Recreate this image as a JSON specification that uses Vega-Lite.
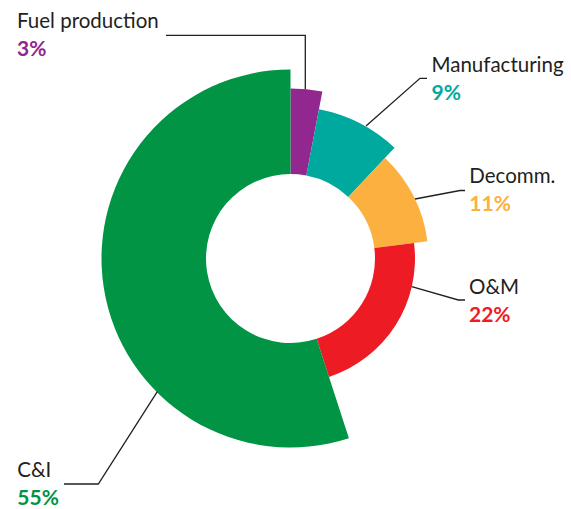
{
  "$schema": "https://vega.github.io/schema/vega-lite/v6.json",
  "width": 571,
  "height": 509,
  "padding": 0,
  "autosize": {"type": "fit", "contains": "padding"},
  "background": "white",
  "config": {"view": {"stroke": null}},
  "datasets": {
    "shares": [
      {"category": "Fuel production", "share": 0.03, "order": 1},
      {"category": "Manufacturing", "share": 0.09, "order": 2},
      {"category": "Decomm.", "share": 0.11, "order": 3},
      {"category": "O&M", "share": 0.22, "order": 4},
      {"category": "C&I", "share": 0.55, "order": 5}
    ],
    "labels": [
      {"category": "Fuel production", "lx": -273.5, "ly": -230.5},
      {"category": "Manufacturing", "lx": 141, "ly": -186.8},
      {"category": "Decomm.", "lx": 178.8, "ly": -75.8},
      {"category": "O&M", "lx": 178.5, "ly": 35.8},
      {"category": "C&I", "lx": -273.2, "ly": 218.2}
    ],
    "leaders": [
      {"category": "Fuel production", "seq": 1, "x": -124.5, "y": -223.2},
      {"category": "Fuel production", "seq": 2, "x": 14.8, "y": -223.2},
      {"category": "Fuel production", "seq": 3, "x": 14.8, "y": -169.2},
      {"category": "Manufacturing", "seq": 1, "x": 75.5, "y": -132.5},
      {"category": "Manufacturing", "seq": 2, "x": 129.5, "y": -180.2},
      {"category": "Manufacturing", "seq": 3, "x": 136.5, "y": -180.2},
      {"category": "Decomm.", "seq": 1, "x": 124.5, "y": -59.5},
      {"category": "Decomm.", "seq": 2, "x": 169.5, "y": -68},
      {"category": "Decomm.", "seq": 3, "x": 174.5, "y": -68},
      {"category": "O&M", "seq": 1, "x": 121.2, "y": 28.2},
      {"category": "O&M", "seq": 2, "x": 167.8, "y": 41.5},
      {"category": "O&M", "seq": 3, "x": 174.5, "y": 41.5},
      {"category": "C&I", "seq": 1, "x": -133.2, "y": 133.2},
      {"category": "C&I", "seq": 2, "x": -192.2, "y": 225.5},
      {"category": "C&I", "seq": 3, "x": -226.5, "y": 225.5}
    ]
  },
  "layer": [
    {
      "data": {"name": "shares"},
      "transform": [
        {"stack": "share", "groupby": [], "sort": [{"field": "order", "order": "ascending"}], "as": ["t0", "t1"]}
      ],
      "mark": {"type": "arc", "innerRadius": 84.5, "stroke": null},
      "encoding": {
        "x": {"datum": 0, "type": "quantitative", "axis": null, "scale": {"domain": [-290.5, 280.5], "nice": false, "zero": false}},
        "y": {"datum": 0, "type": "quantitative", "axis": null, "scale": {"domain": [-258.5, 250.5], "reverse": true, "nice": false, "zero": false}},
        "theta": {"field": "t0", "type": "quantitative", "stack": null, "scale": {"domain": [0, 1]}},
        "theta2": {"field": "t1"},
        "radius": {"field": "order", "type": "quantitative", "stack": null, "scale": {"type": "linear", "domain": [1, 2, 3, 4, 5], "range": [170, 152, 138, 124.5, 189]}},
        "color": {
          "field": "category", "type": "nominal", "legend": null,
          "scale": {
            "domain": ["Fuel production", "Manufacturing", "Decomm.", "O&M", "C&I"],
            "range": ["#92278F", "#00A99D", "#FBB040", "#ED1C24", "#009444"]
          }
        }
      }
    },
    {
      "data": {"name": "leaders"},
      "mark": {"type": "line", "color": "#231F20", "strokeWidth": 1.3, "interpolate": "linear"},
      "encoding": {
        "x": {"field": "x", "type": "quantitative", "axis": null, "scale": {"domain": [-290.5, 280.5], "nice": false, "zero": false}},
        "y": {"field": "y", "type": "quantitative", "axis": null, "scale": {"domain": [-258.5, 250.5], "reverse": true, "nice": false, "zero": false}},
        "detail": {"field": "category"},
        "order": {"field": "seq"}
      }
    },
    {
      "data": {"name": "labels"},
      "mark": {"type": "text", "align": "left", "baseline": "alphabetic", "font": "Lato", "fontSize": 20.5, "color": "#231F20"},
      "encoding": {
        "x": {"field": "lx", "type": "quantitative", "axis": null, "scale": {"domain": [-290.5, 280.5], "nice": false, "zero": false}},
        "y": {"field": "ly", "type": "quantitative", "axis": null, "scale": {"domain": [-258.5, 250.5], "reverse": true, "nice": false, "zero": false}},
        "text": {"field": "category"}
      }
    },
    {
      "data": {"name": "labels"},
      "transform": [
        {"lookup": "category", "from": {"data": {"name": "shares"}, "key": "category", "fields": ["share"]}}
      ],
      "mark": {"type": "text", "align": "left", "baseline": "alphabetic", "font": "Lato", "fontSize": 21, "fontWeight": "bold", "dy": 28},
      "encoding": {
        "x": {"field": "lx", "type": "quantitative", "axis": null, "scale": {"domain": [-290.5, 280.5], "nice": false, "zero": false}},
        "y": {"field": "ly", "type": "quantitative", "axis": null, "scale": {"domain": [-258.5, 250.5], "reverse": true, "nice": false, "zero": false}},
        "text": {"field": "share", "type": "quantitative", "format": ".0%"},
        "color": {
          "field": "category", "type": "nominal", "legend": null,
          "scale": {
            "domain": ["Fuel production", "Manufacturing", "Decomm.", "O&M", "C&I"],
            "range": ["#92278F", "#00A99D", "#FBB040", "#ED1C24", "#009444"]
          }
        }
      }
    }
  ]
}
